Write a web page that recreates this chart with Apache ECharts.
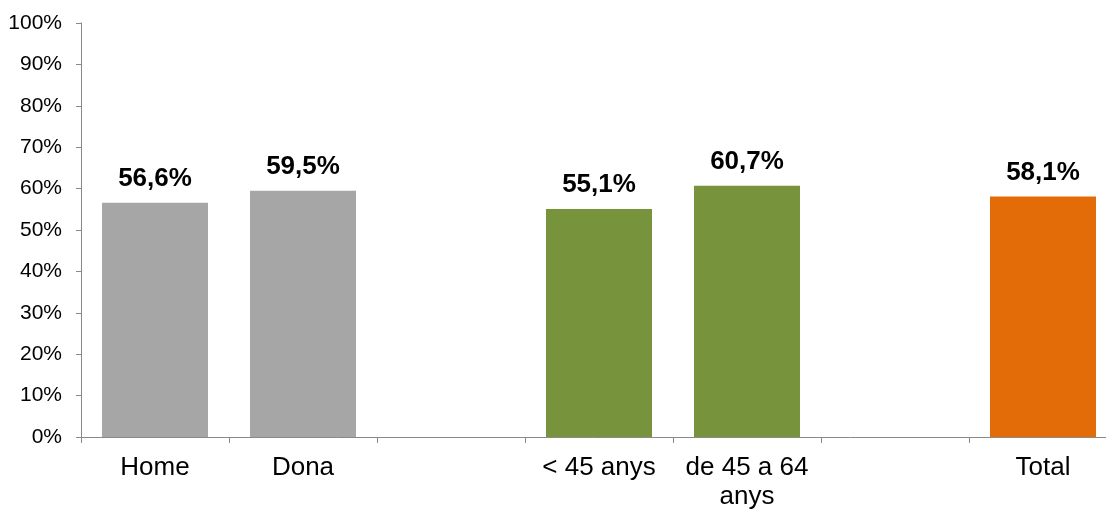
<!DOCTYPE html>
<html>
<head>
<meta charset="utf-8">
<script src="https://cdn.jsdelivr.net/npm/echarts@6/dist/echarts.min.js"></script>
<style>
html,body{margin:0;padding:0;background:#fff;}
#c{width:1106px;height:511px;}
</style>
</head>
<body>
<div id="c"></div>
<script>
const categories = ['Home', 'Dona', '', '< 45 anys', 'de 45 a 64\nanys', '', 'Total'];
const values = [56.6, 59.5, null, 55.1, 60.7, null, 58.1];
const barColors = ['#A6A6A6', '#A6A6A6', '#A6A6A6', '#77933C', '#77933C', '#77933C', '#E36C09'];
const yTicks = [0, 10, 20, 30, 40, 50, 60, 70, 80, 90, 100];

const chart = echarts.init(document.getElementById('c'), null, {renderer: 'canvas'});
chart.setOption({
  animation: false,
  grid: {left: 81, top: 23, bottom: 74, width: 1036, containLabel: false, outerBoundsMode: 'none'},
  xAxis: {
    type: 'category',
    data: categories,
    axisLine: {lineStyle: {color: '#898989', width: 1}},
    axisTick: {show: true, alignWithLabel: false, length: 6, lineStyle: {color: '#898989'}},
    axisLabel: {color: '#000', fontFamily: 'Liberation Sans, Arial, sans-serif', fontSize: 26, margin: 16, lineHeight: 29, interval: 0}
  },
  yAxis: {
    type: 'value',
    min: 0, max: 100, interval: 10,
    axisLine: {show: true, lineStyle: {color: '#898989', width: 1}},
    axisTick: {show: true, length: 5, lineStyle: {color: '#898989'}},
    splitLine: {show: false},
    axisLabel: {
      color: '#000', fontFamily: 'Liberation Sans, Arial, sans-serif', fontSize: 21, margin: 19,
      formatter: v => yTicks.includes(v) ? v + '%' : ''
    }
  },
  series: [{
    type: 'bar',
    data: values.map((v, i) => ({value: v, itemStyle: {color: barColors[i]}})),
    barWidth: 106,
    label: {
      show: true, position: 'top', distance: 11,
      color: '#000', fontWeight: 'bold', fontSize: 26, lineHeight: 26,
      fontFamily: 'Liberation Sans, Arial, sans-serif',
      formatter: p => p.value == null ? '' : p.value.toFixed(1).replace('.', ',') + '%'
    }
  }]
});
</script>
</body>
</html>
